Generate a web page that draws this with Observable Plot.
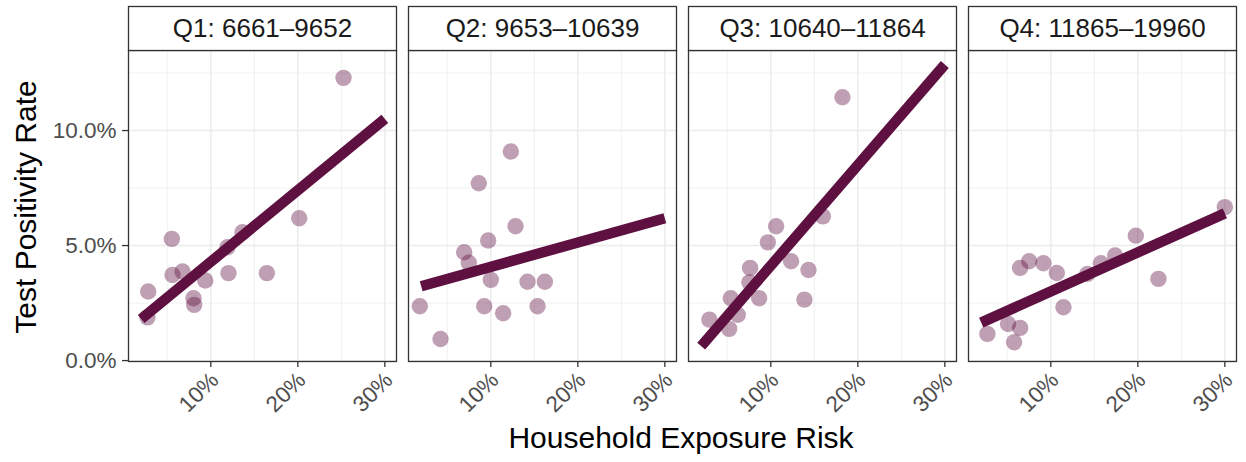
<!DOCTYPE html>
<html>
<head>
<meta charset="utf-8">
<script src="https://cdn.jsdelivr.net/npm/d3@7"></script>
<script src="https://cdn.jsdelivr.net/npm/@observablehq/plot@0.6"></script>
<style>
  html, body { margin: 0; padding: 0; background: #fff; }
  #wrap { position: relative; width: 1246px; height: 462px; font-family: "Liberation Sans", Arial, sans-serif; }
  #wrap svg { position: absolute; left: 0; top: 0; }
  .title { position: absolute; color: #000; font-size: 30px; white-space: nowrap; line-height: 1; }
  #ylab { left: 26px; top: 207px; transform: translate(-50%, -50%) rotate(-90deg); }
  #xlab { left: 681px; top: 438px; transform: translate(-50%, -50%); }
</style>
</head>
<body>
<div id="wrap">
  <div id="ylab" class="title">Test Positivity Rate</div>
  <div id="xlab" class="title">Household Exposure Risk</div>
</div>
<script>
// Facet labels (income quartiles)
const quartiles = ["Q1: 6661\u20139652", "Q2: 9653\u201310639", "Q3: 10640\u201311864", "Q4: 11865\u201319960"];

// Household exposure risk (%) and test positivity rate (%) per quartile
const q1x = [25.25, 20.16, 5.52, 13.64, 11.92, 5.6, 6.75, 9.36, 12.03, 16.44, 2.8, 8.01, 8.09, 2.72];
const q1y = [12.29, 6.19, 5.29, 5.58, 4.93, 3.72, 3.87, 3.48, 3.8, 3.8, 3.0, 2.71, 2.42, 1.88];
const q2x = [12.3, 8.62, 12.84, 9.7, 6.94, 7.47, 10.0, 14.22, 16.21, 1.84, 9.24, 15.37, 11.42, 4.22];
const q2y = [9.09, 7.71, 5.84, 5.22, 4.71, 4.25, 3.51, 3.43, 3.43, 2.36, 2.36, 2.36, 2.06, 0.94];
const q3x = [18.23, 15.98, 10.61, 9.66, 12.33, 14.33, 7.62, 7.54, 8.66, 13.86, 5.4, 6.2, 2.94, 5.21];
const q3y = [11.45, 6.27, 5.84, 5.14, 4.32, 3.94, 4.03, 3.4, 2.71, 2.65, 2.71, 1.99, 1.78, 1.38];
const q4x = [30.0, 19.77, 17.39, 15.75, 14.21, 22.37, 7.51, 6.47, 9.15, 10.69, 11.45, 5.09, 6.47, 2.71, 5.78];
const q4y = [6.67, 5.43, 4.57, 4.23, 3.77, 3.55, 4.32, 4.03, 4.23, 3.81, 2.32, 1.59, 1.42, 1.16, 0.8];

// Fitted linear trend per quartile: value at the start and end of the exposure range
const fitX = [2, 30];
const fitStart = [1.81, 3.23, 0.63, 1.65];
const fitEnd = [10.51, 6.19, 12.87, 6.40];

// Tick values
const xTicks = [10, 20, 30];
const xMinor = [5, 15, 25];
const yTicks = [0, 5, 10];
const yMinor = [2.5, 7.5, 12.5];

const xs = [q1x, q2x, q3x, q4x];
const ys = [q1y, q2y, q3y, q4y];
const points = quartiles.flatMap((q, i) => xs[i].map((x, j) => ({q, x, y: ys[i][j]})));
const fits = quartiles.flatMap((q, i) => [
  {q, x: fitX[0], y: fitStart[i]},
  {q, x: fitX[1], y: fitEnd[i]}
]);

const purple = "#5e1041";
const W = 1246, H = 462, mT = 50, mB = 101;
const innerH = H - mT - mB;

const chart = Plot.plot({
  width: W,
  height: H,
  marginLeft: 126,
  marginRight: 9,
  marginTop: mT,
  marginBottom: mB,
  style: {fontFamily: "'Liberation Sans', Arial, sans-serif", background: "transparent", overflow: "visible"},
  fx: {domain: quartiles, paddingInner: 0.0446, paddingOuter: 0, axis: null, label: null},
  x: {domain: [0.54, 31.34], label: null},
  y: {domain: [-0.04, 13.48], label: null},
  marks: [
    Plot.gridX({ticks: xMinor, stroke: "#ebebeb", strokeOpacity: 1, strokeWidth: 0.7}),
    Plot.gridY({ticks: yMinor, stroke: "#ebebeb", strokeOpacity: 1, strokeWidth: 0.7}),
    Plot.gridX({ticks: xTicks, stroke: "#ebebeb", strokeOpacity: 1, strokeWidth: 1.4}),
    Plot.gridY({ticks: yTicks, stroke: "#ebebeb", strokeOpacity: 1, strokeWidth: 1.4}),
    Plot.dot(points, {fx: "q", x: "x", y: "y", r: 8.2, fill: purple, fillOpacity: 0.4, stroke: null}),
    Plot.line(fits, {fx: "q", x: "x", y: "y", z: "q", stroke: purple, strokeWidth: 10.5, strokeLinecap: "butt"}),
    Plot.frame({stroke: "#333333", strokeWidth: 1.3}),
    Plot.frame({insetTop: -44, insetBottom: innerH, fill: "white", stroke: "#333333", strokeWidth: 1.3}),
    Plot.text(quartiles, {fx: d => d, text: d => d, frameAnchor: "top", lineAnchor: "middle", dy: -22, fontSize: 26, fill: "#1a1a1a"}),
    // x ticks (marks only)
    Plot.axisX({ticks: xTicks, tickFormat: () => "", tickSize: 6, stroke: "#333333", strokeWidth: 1.3, label: null}),
    // x tick labels, rotated
    Plot.axisX({ticks: xTicks, tickFormat: d => `${d}%`, tickRotate: -45, tickSize: 0, tickPadding: 15, dx: 4,
      fontSize: 22.5, fill: "#4d4d4d", label: null}),
    Plot.axisY({ticks: yTicks, tickFormat: d => `${d.toFixed(1)}%`, tickSize: 6, tickPadding: 6,
      fontSize: 22.5, stroke: "#333333", strokeWidth: 1.3, fill: "#4d4d4d", label: null})
  ]
});
document.getElementById("wrap").prepend(chart);
</script>
</body>
</html>
